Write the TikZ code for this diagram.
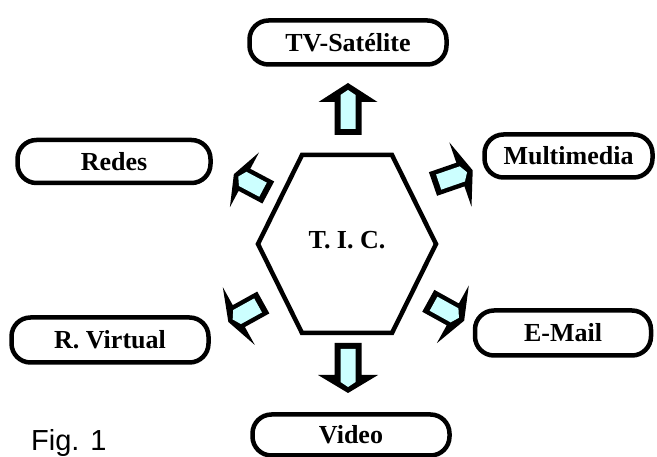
\documentclass[tikz,border=0pt]{standalone}
\usepackage{fontspec}
\setmainfont{Liberation Serif}
\newfontfamily\figfont{Liberation Sans}
\definecolor{lcyan}{HTML}{CCFFFF}
% #1 x, #2 y, #3 angle, #4 shaft length, #5 head length, #6 wing half-span,
% #7 shaft half-width, #8 cyan half-width, #9 cyan extension past head base
\newcommand{\blockarr}[9]{%
  \begin{scope}[shift={(#1,#2)},rotate=#3]
    \fill[black] (0,-#7) -- (#4,-#7) -- (#4,-#6) -- ({#4+#5},0) -- (#4,#6)
      -- (#4,#7) -- (0,#7) -- cycle;
    \fill[lcyan] (6,-#8) -- ({#4+#9},-#8) -- ({#4+#9+5},0) -- ({#4+#9},#8)
      -- (6,#8) -- cycle;
  \end{scope}}
\tikzset{
  pill/.style={draw=black, line width=4.5pt, rounded corners=19pt, fill=white,
    inner sep=0pt, font=\fontsize{26}{30}\selectfont\bfseries},
  hexa/.style={draw=black, line width=4.5pt, line join=miter},
  ticlabel/.style={font=\fontsize{26}{30}\selectfont\bfseries, inner sep=0pt},
  figlabel/.style={font=\figfont\fontsize{29}{34}\selectfont, inner sep=0pt, anchor=base west}
}
\begin{document}
\begin{tikzpicture}[x=1pt,y=-1pt]
\useasboundingbox (0,0) rectangle (657,457);
% hexagon
\draw[hexa] (302,155) -- (392,155) -- (436,244) -- (392,333) -- (302,333) -- (258,244) -- cycle;
\node[ticlabel] (tic) at (347,240) {T. I. C.};
% boxes
\node[pill, minimum width=197pt, minimum height=44pt] (tv) at (348,42.5) {TV-Satélite};
\node[pill, minimum width=193pt, minimum height=43pt] (redes) at (114,161.5) {Redes};
\node[pill, minimum width=168pt, minimum height=43pt] (multi) at (568.5,156) {Multimedia};
\node[pill, minimum width=197pt, minimum height=45pt] (rv) at (110,340) {R. Virtual};
\node[pill, minimum width=176pt, minimum height=45pt] (mail) at (563,333) {E-Mail};
\node[pill, minimum width=197pt, minimum height=41pt] (video) at (351,435) {Video};
% arrows
\blockarr{348}{135}{90}{33}{19}{29.5}{13.5}{7.5}{7}
\blockarr{348}{343}{-90}{32}{18}{30}{13.5}{7.5}{7}
\blockarr{268.3}{192.5}{152}{27}{12}{31}{12.5}{8}{2}
\blockarr{433}{184}{19}{29}{13}{34}{12.5}{8}{2}
\blockarr{263.3}{302.5}{209}{28}{12}{33}{12.5}{8}{2}
\blockarr{428.3}{300.8}{-29}{28}{13}{33}{12.5}{8}{2}
% caption
\node[figlabel] (fig) at (31,450) {Fig. 1};
\end{tikzpicture}
\end{document}
